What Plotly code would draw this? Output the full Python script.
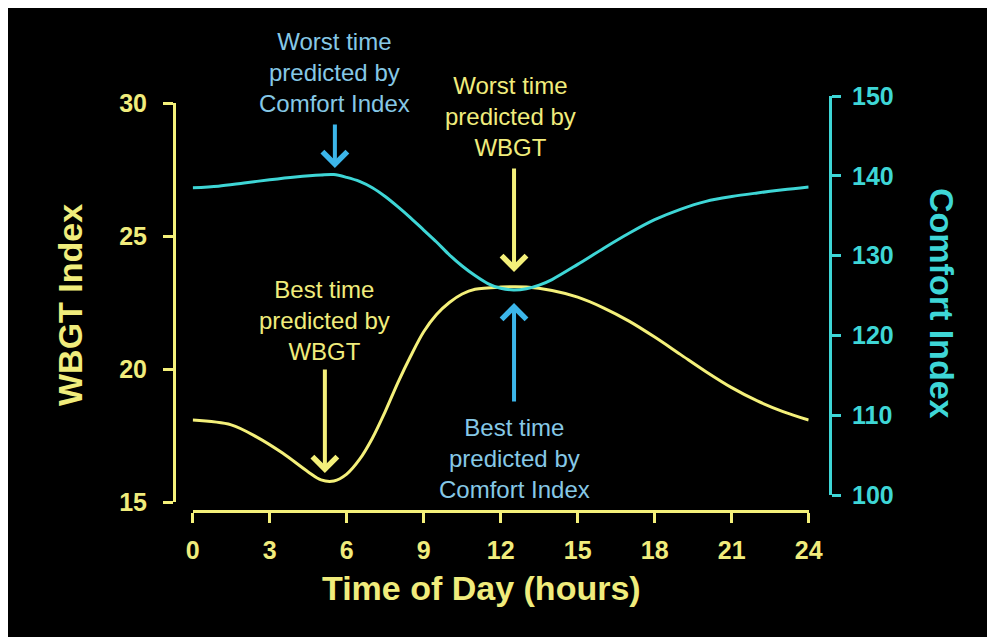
import plotly.graph_objects as go

# ---- data ----
wbgt_hours = [0, 1.5, 2.5, 3.5, 4.5, 5.0, 5.5, 6.0, 6.5, 7.0, 7.5, 8.0, 8.5, 9.0, 9.5, 10.0,
              10.5, 11.0, 12.0, 13.0, 14.0, 15.0, 16.0, 17.0, 18.0, 19.0, 20.0, 21.0, 22.0, 23.0, 24.0]
wbgt_values = [18.08, 17.9, 17.44, 16.84, 16.13, 15.83, 15.79, 16.05, 16.6, 17.4, 18.4, 19.5, 20.5,
               21.4, 22.05, 22.5, 22.82, 23.0, 23.08, 23.08, 22.95, 22.7, 22.3, 21.8, 21.2, 20.55,
               19.9, 19.3, 18.8, 18.4, 18.08]

comfort_hours = [0, 1, 2, 3, 4, 5, 5.5, 6, 6.5, 7, 7.5, 8, 8.5, 9, 9.5, 10, 10.5, 11, 11.5, 12,
                 12.5, 13, 13.5, 14, 15, 16, 17, 18, 19, 20, 21, 22, 23, 24]
comfort_values = [138.5, 138.7, 139.1, 139.5, 139.85, 140.1, 140.15, 139.8, 139.3, 138.5, 137.4,
                  136.1, 134.7, 133.2, 131.7, 130.1, 128.7, 127.5, 126.5, 125.9, 125.7, 125.85,
                  126.3, 127.0, 128.9, 130.9, 132.8, 134.5, 135.8, 136.8, 137.4, 137.85, 138.25, 138.6]

x_ticks = [0, 3, 6, 9, 12, 15, 18, 21, 24]
wbgt_ticks = [15, 20, 25, 30]
comfort_ticks = [100, 110, 120, 130, 140, 150]

YEL_LINE = "#f4f07a"
YEL_TXT = "#f0ec7c"
CYAN = "#3ed6d6"
BLUE_ARROW = "#3cb6ea"
BLUE_TXT = "#86c8e6"
FONT = "Liberation Sans"

fig = go.Figure()
fig.add_trace(go.Scatter(x=wbgt_hours, y=wbgt_values, mode="lines", xaxis="x", yaxis="y",
                         line=dict(color=YEL_LINE, width=3, shape="spline", smoothing=0.9),
                         hoverinfo="skip", showlegend=False))
fig.add_trace(go.Scatter(x=comfort_hours, y=comfort_values, mode="lines", xaxis="x", yaxis="y2",
                         line=dict(color=CYAN, width=3, shape="spline", smoothing=0.9),
                         hoverinfo="skip", showlegend=False))

tickfont_y = dict(family=FONT, size=25, color=YEL_TXT, weight="bold")
tickfont_c = dict(family=FONT, size=25, color=CYAN, weight="bold")

fig.update_layout(
    width=995, height=637,
    margin=dict(l=166, r=173, t=88, b=134),
    paper_bgcolor="black", plot_bgcolor="rgba(0,0,0,0)",
    showlegend=False,
    xaxis=dict(domain=[0.0285, 0.9675], range=[0, 24], anchor="free", position=0,
               tickvals=x_ticks, ticks="outside", ticklen=10, tickwidth=3, tickcolor=YEL_LINE,
               showline=True, linecolor=YEL_LINE, linewidth=3, showgrid=False, zeroline=False,
               tickfont=tickfont_y, ticklabelstandoff=6),
    yaxis=dict(domain=[0.02169, 0.98313], range=[15, 30], anchor="free", position=0,
               tickvals=wbgt_ticks, ticks="outside", ticklen=10, tickwidth=3, tickcolor=YEL_LINE,
               showline=True, linecolor=YEL_LINE, linewidth=3, showgrid=False, zeroline=False,
               tickfont=tickfont_y, ticklabelstandoff=11),
    yaxis2=dict(domain=[0.03855, 1.0], range=[100, 150], anchor="free", position=1, side="right",
                tickvals=comfort_ticks, ticks="outside", ticklen=9, tickwidth=3, tickcolor=CYAN,
                showline=True, linecolor=CYAN, linewidth=3, showgrid=False, zeroline=False,
                tickfont=tickfont_c, ticklabelstandoff=6),
)

title_font_y = dict(family=FONT, size=34, color=YEL_TXT, weight="bold")
title_font_c = dict(family=FONT, size=34, color=CYAN, weight="bold")
fig.add_annotation(text="WBGT Index", xref="paper", yref="paper", x=-0.1585, y=0.4964,
                   textangle=-90, showarrow=False, font=title_font_y, xanchor="center", yanchor="middle")
fig.add_annotation(text="Comfort Index", xref="paper", yref="paper", x=1.1707, y=0.4988,
                   textangle=90, showarrow=False, font=title_font_c, xanchor="center", yanchor="middle")
fig.add_annotation(text="Time of Day (hours)", xref="paper", yref="paper", x=0.4695, y=-0.1855,
                   showarrow=False, font=title_font_y, xanchor="center", yanchor="middle")

lab_y = dict(family=FONT, size=24, color=YEL_TXT)
lab_b = dict(family=FONT, size=24, color=BLUE_TXT)
labels = [
    ("Worst time<br>predicted by<br>Comfort Index", 0.2454, 1.0578, lab_b),
    ("Worst time<br>predicted by<br>WBGT", 0.5122, 0.9494, lab_y),
    ("Best time<br>predicted by<br>WBGT", 0.2287, 0.4602, lab_y),
    ("Best time<br>predicted by<br>Comfort Index", 0.5183, 0.1277, lab_b),
]
for t, xp, yp, f in labels:
    fig.add_annotation(text=t, xref="paper", yref="paper", x=xp, y=yp, showarrow=False,
                       font=f, align="center", xanchor="center", yanchor="middle")

arrows = [
    (5.54, 140.98, "y2", -45, BLUE_ARROW),
    (12.52, 23.65, "y", -105, YEL_LINE),
    (5.15, 16.09, "y", -105, YEL_LINE),
    (12.52, 124.06, "y2", 100, BLUE_ARROW),
]
for ax_x, ax_y, yr, ay, col in arrows:
    fig.add_annotation(text="", x=ax_x, y=ax_y, xref="x", yref=yr, ax=0, ay=ay,
                       showarrow=True, arrowhead=4, arrowsize=1.2, arrowwidth=4, arrowcolor=col,
                       standoff=0)

fig.write_html("out.html")
